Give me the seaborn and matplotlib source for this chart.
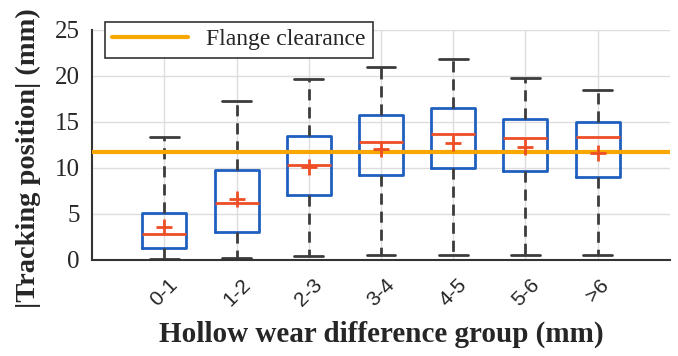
import numpy as np
import pandas as pd
import seaborn as sns
import matplotlib
matplotlib.use("Agg")
import matplotlib.pyplot as plt
from matplotlib.colors import to_hex

groups = ["0-1", "1-2", "2-3", "3-4", "4-5", "5-6", ">6"]
whisker_low = [0.1, 0.25, 0.45, 0.5, 0.5, 0.5, 0.5]
q1 = [1.3, 3.0, 7.0, 9.2, 10.0, 9.7, 9.0]
median = [2.8, 6.2, 10.3, 12.8, 13.7, 13.2, 13.4]
q3 = [5.1, 9.8, 13.5, 15.7, 16.5, 15.3, 15.0]
whisker_high = [13.4, 17.3, 19.7, 21.0, 21.8, 19.8, 18.5]
means = [3.6, 6.6, 10.1, 12.0, 12.7, 12.3, 11.6]
flange_clearance = 11.7

rows = []
for g, a, b, c, d, e in zip(groups, whisker_low, q1, median, q3, whisker_high):
    for v in (a, b, c, d, e):
        rows.append({"group": g, "value": v})
df = pd.DataFrame(rows)

sns.set_style("white")
plt.rcParams["font.family"] = ["Liberation Serif", "DejaVu Serif"]

blue = "#1F5FBF"
red = "#EE4E26"
orange = "#F7A700"
dark = "#3c3c3c"

fig = plt.figure(figsize=(6.78, 3.56), dpi=100)
ax = fig.add_axes([0.136, 0.270, 0.852, 0.646])

sns.boxplot(data=df, x="group", y="value", order=groups, whis=(0, 100),
            width=0.61, fill=False, color=blue, linewidth=2, showfliers=False,
            boxprops=dict(color=blue, linewidth=2),
            whiskerprops=dict(color=dark, linestyle=(0, (4, 2.5)), linewidth=2),
            capprops=dict(color=dark, linewidth=2),
            medianprops=dict(color=red, linewidth=2),
            ax=ax)

# adjust cap widths
for line in ax.lines:
    xd = np.asarray(line.get_xdata(), dtype=float)
    yd = np.asarray(line.get_ydata(), dtype=float)
    if len(xd) == 2 and yd[0] == yd[1] and to_hex(line.get_color()) == dark:
        cx = xd.mean()
        line.set_xdata([cx - 0.2, cx + 0.2])

ax.plot(np.arange(len(groups)), means, linestyle="none", marker="+",
        markersize=12, markeredgewidth=2, color=red, zorder=6)

ax.axhline(flange_clearance, color=orange, linewidth=3, zorder=5,
           label="Flange clearance")

ax.set_xlim(-1, 7)
ax.set_ylim(0, 25)
ax.set_yticks([0, 5, 10, 15, 20, 25])
ax.grid(True, color="#DDDDDD", linewidth=1)
ax.set_axisbelow(True)
for s in ["top", "right"]:
    ax.spines[s].set_visible(False)
for s in ["left", "bottom"]:
    ax.spines[s].set_color("#333333")
    ax.spines[s].set_linewidth(1.5)

ax.tick_params(axis="y", direction="in", length=4, labelsize=18, pad=9)
ax.tick_params(axis="x", direction="in", length=0, labelsize=15, pad=11)
for lab in ax.get_xticklabels():
    lab.set_rotation(45)
    lab.set_family(["Liberation Sans", "DejaVu Sans"])
    lab.set_fontweight("light")

ax.set_xlabel("Hollow wear difference group (mm)", fontsize=21,
              fontweight="bold", labelpad=8)
ax.set_ylabel("|Tracking position| (mm)", fontsize=20.5, fontweight="bold")
ax.yaxis.set_label_coords(-0.088, 0.443)

leg = ax.legend(loc="upper left", fontsize=17, frameon=True, fancybox=False,
                edgecolor="#333333", borderpad=0.3, handlelength=3.2,
                borderaxespad=0.0, bbox_to_anchor=(0.022, 1.035))
leg.get_frame().set_linewidth(1.2)
leg.get_frame().set_alpha(1)

fig.savefig("out.png", dpi=100)
